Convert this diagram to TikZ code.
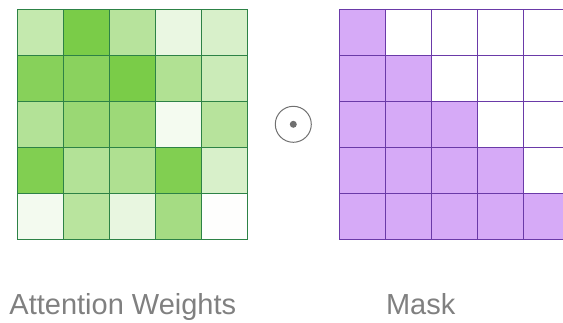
\documentclass[tikz,border=0pt]{standalone}
\usepackage{fontspec}
\setmainfont{Liberation Sans}
\definecolor{gbase}{RGB}{122,204,72}
\definecolor{gline}{RGB}{45,130,70}
\definecolor{pfill}{RGB}{214,170,247}
\definecolor{pline}{RGB}{106,58,168}
\definecolor{labgray}{RGB}{128,128,128}
\definecolor{opgray}{RGB}{112,112,112}
\tikzset{
  cellbox/.style={draw, minimum size=46pt, inner sep=0pt, outer sep=0pt, line width=1.2pt},
  gcell/.style={cellbox, draw=gline},
  pcell/.style={cellbox, draw=pline},
  lab/.style={text=labgray, font=\fontsize{29}{32}\selectfont, inner sep=0pt, anchor=base},
}
\begin{document}
\begin{tikzpicture}[x=1pt,y=-1pt]
\useasboundingbox (0,0) rectangle (563,323);
\clip (0,0) rectangle (563,323);
% attention weights
\foreach \row/\vals in {0/{44,100,54,16,29},1/{90,88,100,59,39},2/{57,76,74,8,54},3/{95,57,60,95,29},4/{9,53,17,68,1}}{
  \foreach \v [count=\c from 0] in \vals {
    \node[gcell, fill=gbase!\v!white] (L-\row-\c) at (17.7+46*\c+23, 9.3+46*\row+23) {};
  }
}
% mask
\foreach \row in {0,...,4}{
  \foreach \c in {0,...,4}{
    \ifnum\c>\row
      \node[pcell, fill=white] (R-\row-\c) at (339.3+46*\c+23, 9.3+46*\row+23) {};
    \else
      \node[pcell, fill=pfill] (R-\row-\c) at (339.3+46*\c+23, 9.3+46*\row+23) {};
    \fi
  }
}
% hadamard operator
\node[draw=opgray, circle, minimum size=36pt, inner sep=0pt, line width=1pt] (op) at (293.3,124.3) {};
\node[fill=opgray, circle, minimum size=7pt, inner sep=0pt] (opdot) at (op.center) {};
% labels
\node[lab] (lw) at (122.8,315) {Attention Weights};
\node[lab] (lm) at (420.7,315) {Mask};
\end{tikzpicture}
\end{document}
